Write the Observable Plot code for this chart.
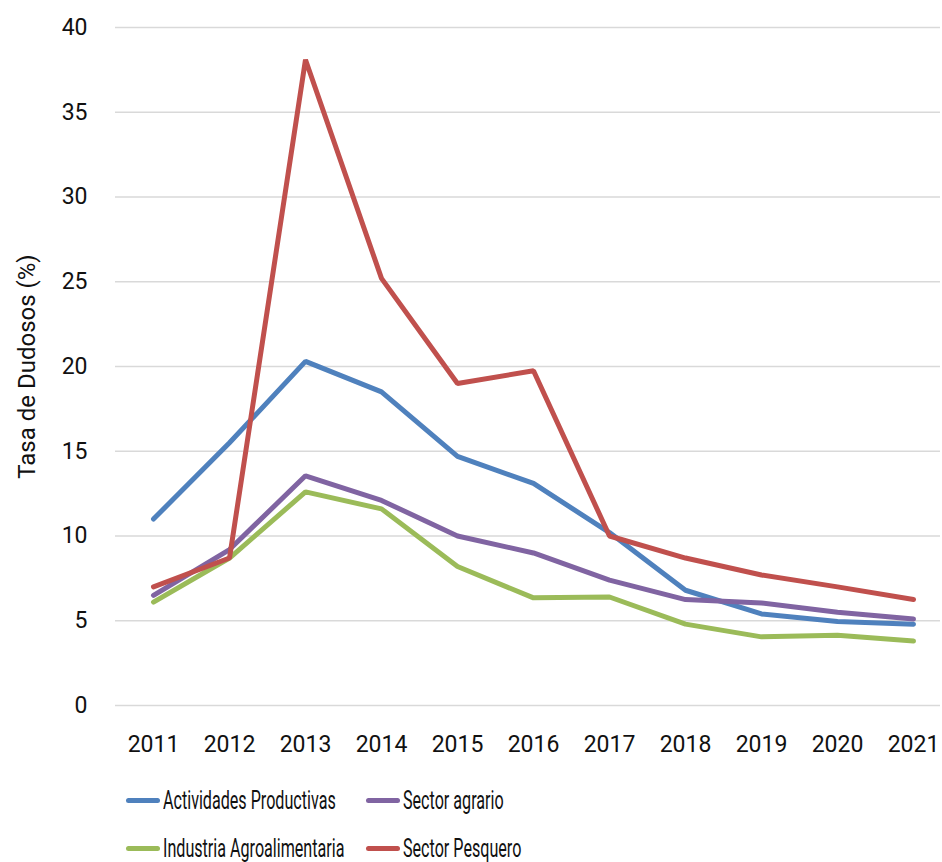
<!DOCTYPE html>
<html>
<head>
<meta charset="utf-8">
<script src="https://cdn.jsdelivr.net/npm/d3@7"></script>
<script src="https://cdn.jsdelivr.net/npm/@observablehq/plot@0.6"></script>
<style>
  body { margin: 0; background: #fff; font-family: Roboto, sans-serif; }
  #wrap { position: relative; width: 942px; height: 862px; }
  .legend { position: absolute; left: 0; top: 785px; width: 942px; display: grid; grid-template-columns: 126px 240px 300px; row-gap: 18px; font-size: 26px; line-height: 30px; color: #111; }
  .item { display: flex; align-items: center; white-space: nowrap; }
  .sw { display: inline-block; flex-shrink: 0; width: 34px; height: 5px; border-radius: 3px; margin-right: 3px; }
  .lt { display: inline-block; transform: scaleX(0.62); transform-origin: left center; }
</style>
</head>
<body>
<div id="wrap"><div id="chart"></div><div class="legend" id="legend"></div></div>
<script>
const years = ["2011","2012","2013","2014","2015","2016","2017","2018","2019","2020","2021"];
const seriesNames = ["Actividades Productivas","Sector agrario","Industria Agroalimentaria","Sector Pesquero"];
const colors = ["#4f81bd","#8064a2","#9bbb59","#c0504d"];
const actividades = [11.0, 15.5, 20.3, 18.5, 14.7, 13.1, 10.2, 6.8, 5.4, 4.95, 4.8];
const agrario     = [6.5, 9.2, 13.55, 12.1, 10.0, 9.0, 7.4, 6.25, 6.05, 5.5, 5.1];
const industria   = [6.1, 8.7, 12.6, 11.6, 8.2, 6.35, 6.4, 4.8, 4.05, 4.15, 3.8];
const pesquero    = [7.0, 8.7, 38.1, 25.2, 19.0, 19.75, 10.0, 8.7, 7.7, 7.0, 6.25];
const yTicks = [0,5,10,15,20,25,30,35,40];

const valuesBy = {
  "Actividades Productivas": actividades,
  "Sector agrario": agrario,
  "Industria Agroalimentaria": industria,
  "Sector Pesquero": pesquero
};
const drawOrder = ["Actividades Productivas","Industria Agroalimentaria","Sector agrario","Sector Pesquero"];
const data = [];
for (const s of drawOrder) valuesBy[s].forEach((v,i) => data.push({series: s, year: years[i], value: v}));

const chart = Plot.plot({
  width: 942,
  height: 770,
  marginLeft: 115,
  marginRight: 2,
  marginTop: 27,
  marginBottom: 65,
  style: {fontFamily: 'Roboto, sans-serif', fontSize: "23px", color: "#111", background: "#fff"},
  x: {type: "point", domain: years, range: [152, 914], padding: 0, label: null},
  y: {domain: [0, 40], label: null},
  color: {domain: seriesNames, range: colors},
  marks: [
    Plot.ruleY(yTicks, {stroke: "#d9d9d9", strokeWidth: 1.6}),
    Plot.axisY({ticks: yTicks, tickSize: 0, tickPadding: 28, label: null}),
    Plot.axisX({tickSize: 0, tickPadding: 30, label: null}),
    Plot.text(["Tasa de Dudosos (%)"], {frameAnchor: "left", textAnchor: "middle", dx: -88, rotate: -90, fontSize: 24}),
    Plot.line(data, {x: "year", y: "value", z: "series", stroke: "series", strokeWidth: 5, strokeLinecap: "round", strokeLinejoin: "miter"})
  ]
});
document.getElementById("chart").appendChild(chart);

const legendOrder = ["Actividades Productivas","Sector agrario","Industria Agroalimentaria","Sector Pesquero"];
const leg = document.getElementById("legend");
legendOrder.forEach((s, i) => {
  if (i % 2 === 0) leg.appendChild(document.createElement("div"));
  const d = document.createElement("div");
  d.className = "item";
  d.innerHTML = `<span class="sw" style="background:${colors[seriesNames.indexOf(s)]}"></span><span class="lt">${s}</span>`;
  leg.appendChild(d);
});
</script>
</body>
</html>
